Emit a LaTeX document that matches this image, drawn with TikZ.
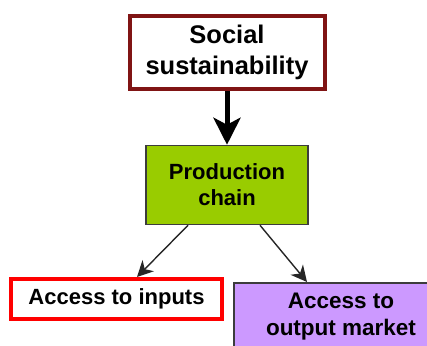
\documentclass[tikz,border=0pt]{standalone}
\usepackage{fontspec}
\setmainfont{Liberation Sans}
\usetikzlibrary{arrows.meta,calc}
\definecolor{socred}{RGB}{128,20,20}
\definecolor{prodgreen}{RGB}{153,204,0}
\definecolor{outpurple}{RGB}{204,153,255}
\definecolor{boxgray}{RGB}{60,60,60}
\tikzset{
  lbl/.style={align=center, inner sep=0pt},
  thinarr/.style={draw=black!85, line width=1.4pt, -{Stealth[length=16pt,width=16pt,inset=5pt]}},
  thickarr/.style={draw=black, line width=5pt, -{Stealth[length=27pt,width=27pt,inset=7pt]}}
}
\begin{document}
\begin{tikzpicture}[x=1pt,y=-1pt]
\useasboundingbox (0,0) rectangle (427,345);
\clip (0,0) rectangle (427,345);
\node[rectangle, draw=socred, line width=4pt, fill=white, minimum width=195pt, minimum height=73pt, lbl, font=\bfseries\fontsize{25.5}{31}\selectfont] (soc) at (227,52.5) {Social\\sustainability};
\node[rectangle, draw=boxgray, line width=1.5pt, fill=prodgreen, minimum width=162pt, minimum height=79pt, lbl, font=\bfseries\fontsize{22}{26}\selectfont] (prod) at (227,185) {Production\\chain};
\node[rectangle, draw=red, line width=4pt, fill=white, minimum width=211pt, minimum height=40pt, lbl, font=\bfseries\fontsize{22}{26}\selectfont] (inp) at (116.5,299) {Access to inputs};
\node[rectangle, draw=boxgray, line width=1.5pt, fill=outpurple, minimum width=214pt, minimum height=80pt, anchor=north west] (out) at (233,282) {};
\node[lbl, font=\bfseries\fontsize{22.5}{27}\selectfont] (outtxt) at (341,317) {Access to\\output market};
\draw[thickarr] (soc.south) -- (prod.north);
\draw[thinarr] ($(prod.south)+(-39,0)$) -- ($(inp.north)+(20.5,0)$);
\draw[thinarr] ($(prod.south)+(33,0)$) -- ($(out.north west)+(74,0)$);
\end{tikzpicture}
\end{document}
